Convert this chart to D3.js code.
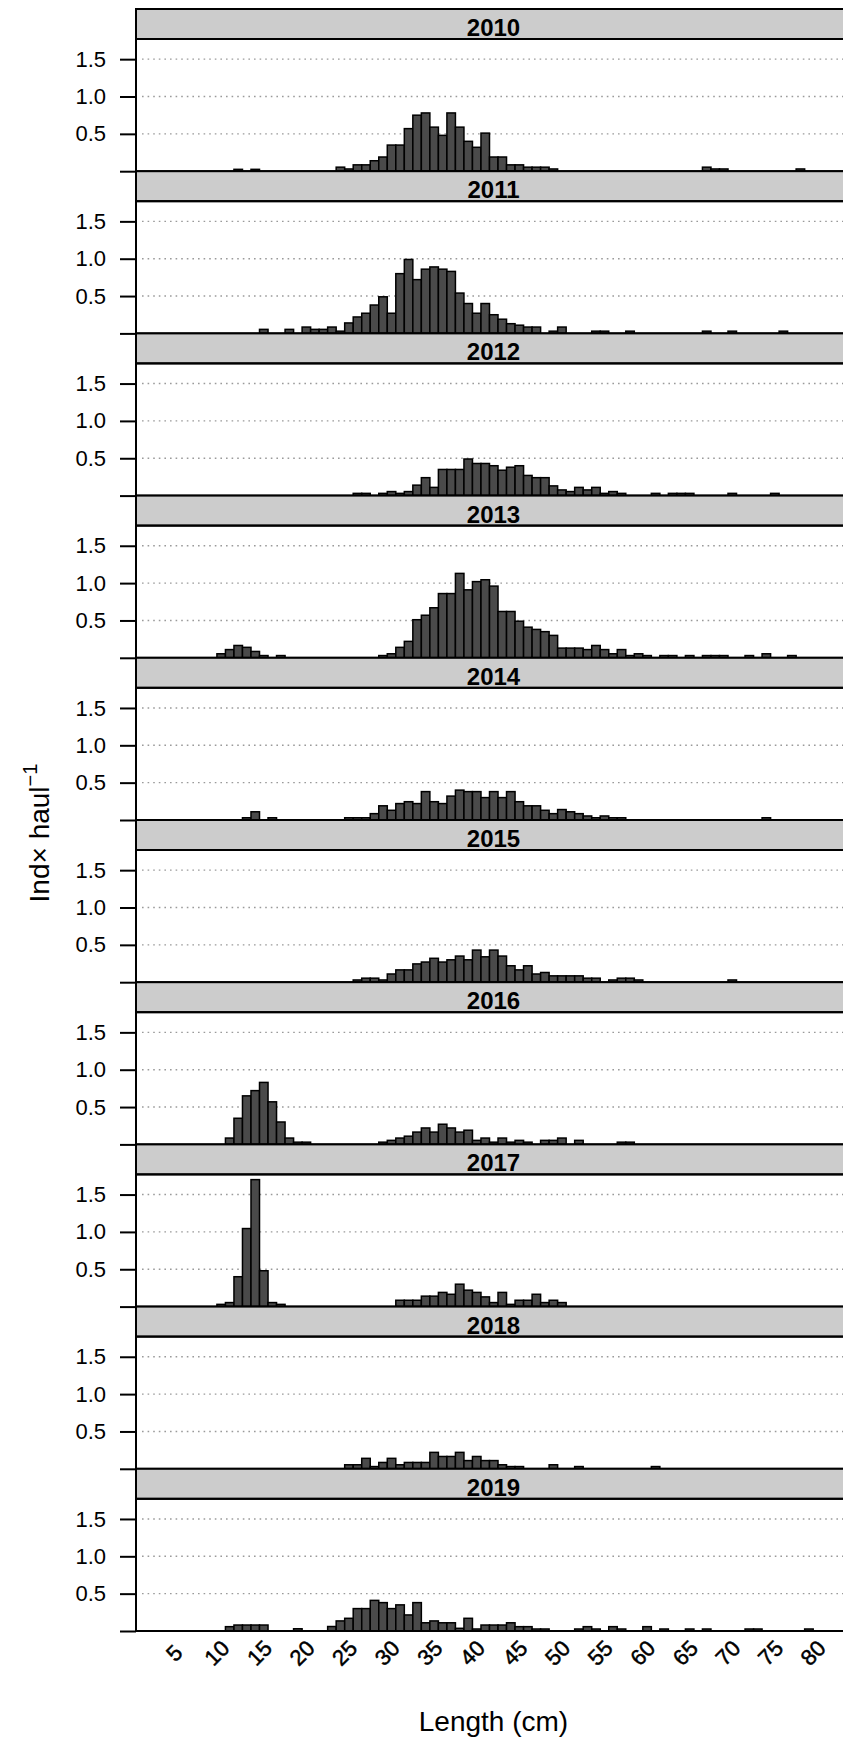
<!DOCTYPE html>
<html>
<head>
<meta charset="utf-8">
<script src="https://cdn.jsdelivr.net/npm/d3@7"></script>
<style>
body { margin: 0; background: #fff; }
svg { display: block; font-family: "Liberation Sans", Arial, Helvetica, sans-serif; }
</style>
</head>
<body>
<script>
// length bins [k, k+1) in cm -> individuals per haul
let years = ["2010", "2011", "2012", "2013", "2014", "2015", "2016", "2017", "2018", "2019"];

let y2010 = [[12,0.025],[14,0.025],[24,0.054],[25,0.03],[26,0.085],[27,0.085],[28,0.14],[29,0.19],[30,0.35],[31,0.35],
  [32,0.57],[33,0.75],[34,0.78],[35,0.59],[36,0.48],[37,0.78],[38,0.59],[39,0.40],[40,0.32],[41,0.51],[42,0.19],[43,0.19],
  [44,0.085],[45,0.085],[46,0.054],[47,0.054],[48,0.054],[49,0.03],[67,0.054],[68,0.03],[69,0.03],[78,0.03]];
let y2011 = [[15,0.054],[18,0.054],[20,0.085],[21,0.054],[22,0.054],[23,0.085],[24,0.03],[25,0.14],[26,0.22],[27,0.27],
  [28,0.38],[29,0.49],[30,0.27],[31,0.80],[32,0.99],[33,0.72],[34,0.86],[35,0.89],[36,0.86],[37,0.83],[38,0.54],[39,0.40],
  [40,0.27],[41,0.40],[42,0.25],[43,0.19],[44,0.13],[45,0.11],[46,0.085],[47,0.085],[49,0.03],[50,0.085],[54,0.03],
  [55,0.03],[58,0.03],[67,0.03],[70,0.03],[76,0.03]];
let y2012 = [[26,0.03],[27,0.03],[29,0.03],[30,0.054],[31,0.03],[32,0.054],[33,0.14],[34,0.24],[35,0.11],[36,0.35],
  [37,0.35],[38,0.35],[39,0.49],[40,0.43],[41,0.43],[42,0.40],[43,0.34],[44,0.38],[45,0.40],[46,0.27],[47,0.24],[48,0.24],
  [49,0.13],[50,0.076],[51,0.054],[52,0.11],[53,0.076],[54,0.11],[55,0.03],[56,0.054],[57,0.03],[61,0.03],[63,0.03],
  [64,0.03],[65,0.03],[70,0.03],[75,0.03]];
let y2013 = [[10,0.054],[11,0.11],[12,0.165],[13,0.14],[14,0.085],[15,0.03],[17,0.03],[29,0.03],[30,0.054],[31,0.14],
  [32,0.22],[33,0.51],[34,0.57],[35,0.67],[36,0.86],[37,0.86],[38,1.13],[39,0.91],[40,1.02],[41,1.045],[42,0.96],[43,0.62],
  [44,0.62],[45,0.49],[46,0.41],[47,0.38],[48,0.35],[49,0.30],[50,0.13],[51,0.13],[52,0.13],[53,0.11],[54,0.165],[55,0.11],
  [56,0.054],[57,0.11],[58,0.03],[59,0.054],[60,0.03],[62,0.03],[63,0.03],[65,0.03],[67,0.03],[68,0.03],[69,0.03],
  [72,0.03],[74,0.054],[77,0.03]];
let y2014 = [[13,0.03],[14,0.11],[16,0.03],[25,0.03],[26,0.03],[27,0.03],[28,0.085],[29,0.19],[30,0.13],[31,0.22],
  [32,0.245],[33,0.22],[34,0.38],[35,0.245],[36,0.22],[37,0.32],[38,0.40],[39,0.38],[40,0.38],[41,0.30],[42,0.38],[43,0.30],
  [44,0.38],[45,0.245],[46,0.19],[47,0.19],[48,0.13],[49,0.085],[50,0.14],[51,0.11],[52,0.085],[53,0.054],[54,0.03],
  [55,0.054],[56,0.03],[57,0.03],[74,0.03]];
let y2015 = [[26,0.03],[27,0.054],[28,0.054],[29,0.03],[30,0.11],[31,0.165],[32,0.165],[33,0.245],[34,0.27],[35,0.32],
  [36,0.27],[37,0.30],[38,0.35],[39,0.30],[40,0.43],[41,0.34],[42,0.43],[43,0.35],[44,0.22],[45,0.165],[46,0.22],[47,0.11],
  [48,0.13],[49,0.085],[50,0.085],[51,0.085],[52,0.085],[53,0.054],[54,0.054],[56,0.03],[57,0.054],[58,0.054],[59,0.03],
  [70,0.03]];
let y2016 = [[11,0.085],[12,0.35],[13,0.65],[14,0.72],[15,0.83],[16,0.57],[17,0.30],[18,0.085],[19,0.03],[20,0.03],
  [29,0.03],[30,0.054],[31,0.085],[32,0.11],[33,0.165],[34,0.22],[35,0.165],[36,0.27],[37,0.22],[38,0.165],[39,0.19],
  [40,0.054],[41,0.085],[42,0.03],[43,0.085],[44,0.03],[45,0.054],[46,0.03],[48,0.054],[49,0.054],[50,0.085],[52,0.054],
  [57,0.03],[58,0.03]];
let y2017 = [[10,0.03],[11,0.054],[12,0.40],[13,1.045],[14,1.70],[15,0.48],[16,0.054],[17,0.03],[31,0.085],[32,0.085],
  [33,0.085],[34,0.14],[35,0.14],[36,0.19],[37,0.165],[38,0.30],[39,0.22],[40,0.19],[41,0.13],[42,0.054],[43,0.19],
  [44,0.03],[45,0.085],[46,0.085],[47,0.165],[48,0.054],[49,0.085],[50,0.054]];
let y2018 = [[25,0.054],[26,0.054],[27,0.14],[28,0.03],[29,0.085],[30,0.14],[31,0.054],[32,0.085],[33,0.085],[34,0.085],
  [35,0.22],[36,0.165],[37,0.165],[38,0.22],[39,0.11],[40,0.165],[41,0.11],[42,0.11],[43,0.054],[44,0.03],[45,0.03],
  [49,0.054],[52,0.03],[61,0.03]];
let y2019 = [[11,0.058],[12,0.08],[13,0.08],[14,0.08],[15,0.08],[19,0.03],[23,0.06],[24,0.135],[25,0.17],[26,0.30],
  [27,0.30],[28,0.41],[29,0.38],[30,0.30],[31,0.35],[32,0.215],[33,0.38],[34,0.11],[35,0.135],[36,0.11],[37,0.11],
  [38,0.036],[39,0.17],[40,0.027],[41,0.08],[42,0.08],[43,0.08],[44,0.11],[45,0.058],[46,0.058],[47,0.027],[48,0.027],
  [52,0.027],[53,0.058],[54,0.027],[56,0.058],[57,0.027],[60,0.058],[62,0.027],[65,0.027],[67,0.027],[72,0.027],
  [73,0.027],[79,0.027]];

let series = [y2010, y2011, y2012, y2013, y2014, y2015, y2016, y2017, y2018, y2019];

let x_ticks = [5, 10, 15, 20, 25, 30, 35, 40, 45, 50, 55, 60, 65, 70, 75, 80];
let y_ticks = [0, 0.5, 1.0, 1.5];
let y_tick_labels = ["", "0.5", "1.0", "1.5"];
let grid_values = [0.5, 1.0, 1.5];

let width = 843, height = 1740;
let left = 136, right = 851, top0 = 9;
let panel_h = 162.2, strip_h = 30;
let plot_h = panel_h - strip_h;

let svg = d3.select("body")
  .append("svg")
    .attr("width", width)
    .attr("height", height);

svg.append("rect").attr("width", width).attr("height", height).attr("fill", "#fff");

let x = d3.scaleLinear().domain([0.5, 84.44]).range([left, right]);
let y = d3.scaleLinear().domain([0, 1.77]).range([plot_h, 0]);

years.forEach((yr, i) => {
  let g = svg.append("g").attr("transform", `translate(0,${top0 + i * panel_h})`);

  // strip
  g.append("rect")
    .attr("x", left).attr("y", 0)
    .attr("width", right - left).attr("height", strip_h)
    .attr("fill", "#cccccc").attr("stroke", "#000").attr("stroke-width", 2);
  g.append("text")
    .attr("x", (left + right) / 2).attr("y", strip_h - 3)
    .attr("text-anchor", "middle")
    .attr("font-size", 24).attr("font-weight", "bold")
    .text(yr);

  let p = g.append("g").attr("transform", `translate(0,${strip_h})`);

  p.selectAll("line.grid")
    .data(grid_values)
    .join("line")
      .attr("class", "grid")
      .attr("x1", left + 6).attr("x2", right)
      .attr("y1", d => y(d)).attr("y2", d => y(d))
      .attr("stroke", "#9a9a9a").attr("stroke-width", 1.4)
      .attr("stroke-dasharray", "1.6,4");

  p.selectAll("rect.bar")
    .data(series[i])
    .join("rect")
      .attr("class", "bar")
      .attr("x", d => x(d[0]))
      .attr("width", d => x(d[0] + 1) - x(d[0]))
      .attr("y", d => y(d[1]))
      .attr("height", d => y(0) - y(d[1]))
      .attr("fill", "#4a4a4a")
      .attr("stroke", "#000")
      .attr("stroke-width", 1.5);

  // panel frame (left + bottom, right side runs off the page)
  p.append("rect")
    .attr("x", left).attr("y", 0)
    .attr("width", right - left).attr("height", plot_h)
    .attr("fill", "none").attr("stroke", "#000").attr("stroke-width", 2);

  let ax = p.append("g")
    .attr("transform", `translate(${left},0)`)
    .call(d3.axisLeft(y).tickValues(y_ticks).tickFormat((d, j) => y_tick_labels[j]).tickSize(16).tickPadding(14));
  ax.select(".domain").remove();
  ax.selectAll(".tick line").attr("stroke", "#000").attr("stroke-width", 2);
  ax.selectAll(".tick text")
    .attr("font-family", "Liberation Sans, Arial, sans-serif")
    .attr("font-size", 22).attr("fill", "#000");
});

// x tick labels under last panel
let bottom = top0 + years.length * panel_h;
svg.append("g")
  .selectAll("text")
  .data(x_ticks)
  .join("text")
    .attr("transform", d => `translate(${x(d)},${bottom + 22}) rotate(-45)`)
    .attr("text-anchor", "middle")
    .attr("dominant-baseline", "central")
    .attr("font-size", 22)
    .attr("stroke", "#000").attr("stroke-width", 0.5)
    .text(d => d);

svg.append("text")
  .attr("x", (left + right) / 2).attr("y", 1731)
  .attr("text-anchor", "middle")
  .attr("font-size", 28)
  .text("Length (cm)");

let ylab = svg.append("text")
  .attr("transform", "translate(49,833) rotate(-90)")
  .attr("text-anchor", "middle")
  .attr("font-size", 28);
ylab.append("tspan").text("Ind\u00d7 haul");
ylab.append("tspan").attr("font-size", 20).attr("dy", -12).text("\u22121");
</script>
</body>
</html>
